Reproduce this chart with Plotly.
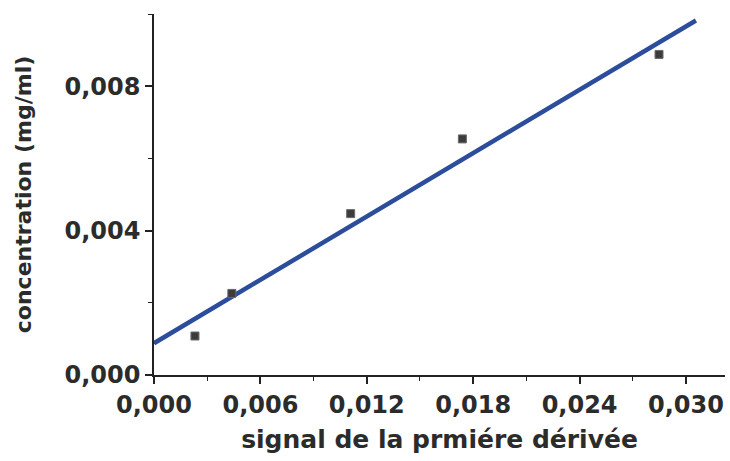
import plotly.graph_objects as go

# measured data points (signal, concentration)
signal = [0.00231, 0.00439, 0.01109, 0.01739, 0.02848]
concentration = [0.00108, 0.00226, 0.00447, 0.00654, 0.00888]

# fitted straight line end points
fit_signal = [0.0, 0.03056]
fit_conc = [0.00088, 0.00982]

x_ticks = [0.000, 0.006, 0.012, 0.018, 0.024, 0.030]
y_ticks = [0.000, 0.004, 0.008]

FONT = "DejaVu Sans"
TXT = "#2b2b2b"

fig = go.Figure()
fig.add_trace(go.Scatter(
    x=fit_signal, y=fit_conc, mode="lines",
    line=dict(color="#2c4c9c", width=4.5),
    showlegend=False, hoverinfo="skip"))
fig.add_trace(go.Scatter(
    x=signal, y=concentration, mode="markers",
    marker=dict(symbol="square", size=8, color="#3c3c3c",
                line=dict(color="#6a6a6a", width=1)),
    showlegend=False))

fig.update_layout(
    width=730, height=461,
    margin=dict(l=154, r=5, t=14, b=86),
    paper_bgcolor="white", plot_bgcolor="white",
    separators=",.",
    font=dict(family=FONT, color=TXT),
)
fig.update_xaxes(
    range=[0, 0.0322], tickvals=x_ticks, tickformat=".3f",
    showgrid=False, zeroline=False,
    showline=True, linecolor="#222", linewidth=1.5,
    ticks="outside", ticklen=7, tickwidth=1.5, tickcolor="#222",
    minor=dict(dtick=0.003, ticks="outside", ticklen=4, tickwidth=1.2, tickcolor="#222"),
    tickfont=dict(family=FONT, size=24, color=TXT, weight="bold"),
    title=dict(text="signal de la prmiére dérivée",
               font=dict(family=FONT, size=25, color=TXT, weight="bold"),
               standoff=13),
)
fig.update_yaxes(
    range=[0, 0.010], tickvals=y_ticks, tickformat=".3f",
    showgrid=False, zeroline=False,
    showline=True, linecolor="#222", linewidth=1.5,
    ticks="outside", ticklen=7, tickwidth=1.5, tickcolor="#222",
    minor=dict(dtick=0.002, ticks="outside", ticklen=4, tickwidth=1.2, tickcolor="#222"),
    tickfont=dict(family=FONT, size=24, color=TXT, weight="bold"),
    title=dict(text="concentration (mg/ml)",
               font=dict(family=FONT, size=22, color=TXT, weight="bold"),
               standoff=27),
)

fig.write_html("out.html")
